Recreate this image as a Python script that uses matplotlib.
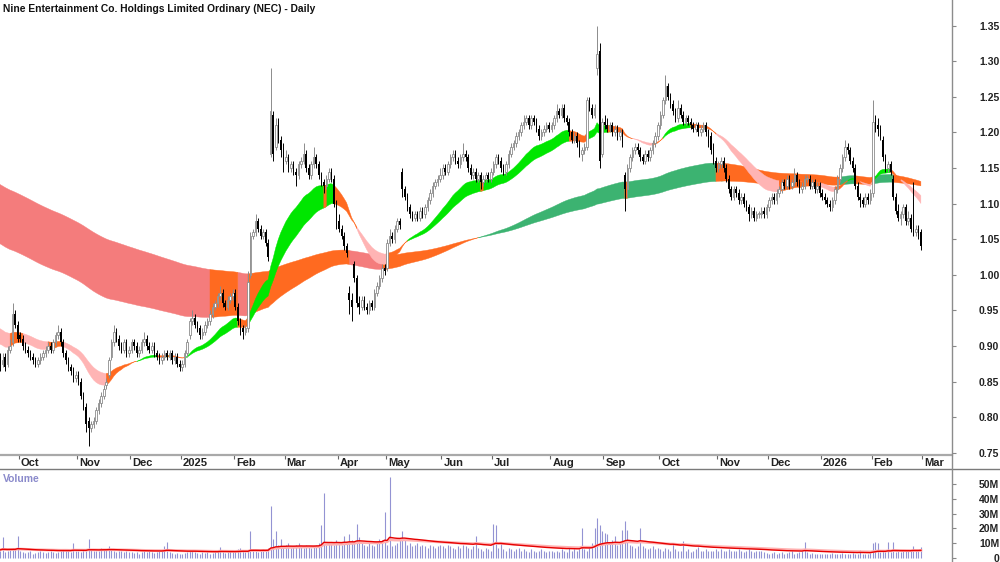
import numpy as np
import pandas as pd
import matplotlib
matplotlib.use("Agg")
import matplotlib.pyplot as plt
from matplotlib.lines import Line2D

plt.rcParams['font.family'] = ['Liberation Sans', 'DejaVu Sans']

title = "Nine Entertainment Co. Holdings Limited Ordinary (NEC) - Daily"

# trading calendar (ASX)
start_date = "2024-09-19"
end_date = "2026-02-27"
holidays = ["2024-12-25", "2024-12-26", "2025-01-01", "2025-01-27", "2025-04-18",
            "2025-04-21", "2025-04-25", "2025-06-09", "2025-12-25", "2025-12-26",
            "2026-01-01", "2026-01-26"]
month_labels = ["Oct", "Nov", "Dec", "2025", "Feb", "Mar", "Apr", "May", "Jun", "Jul",
                "Aug", "Sep", "Oct", "Nov", "Dec", "2026", "Feb", "Mar"]

# prices in cents, one line per month
closes = [
    87.5, 88.0, 87.0, 89.5, 90.0, 94.5, 93.0, 91.0,
    91.0, 90.0, 89.5, 89.0, 88.5, 88.0, 87.5, 88.0, 88.5, 89.0, 89.5, 90.0, 89.5, 90.5, 91.5, 92.0, 90.5, 89.0, 88.0, 87.0, 86.5, 85.5, 86.0,
    85.0, 83.0, 81.5, 79.0, 78.5, 79.0, 79.5, 81.0, 82.0, 83.0, 84.0, 85.0, 88.0, 90.5, 92.0, 91.0, 90.0, 89.5, 90.5, 89.0, 89.5,
    90.5, 90.0, 89.0, 89.5, 90.5, 91.0, 90.0, 89.5, 90.0, 89.0, 88.5, 88.0, 88.5, 89.0, 88.5, 89.0, 88.0, 88.5, 87.5, 87.0,
    87.5, 89.0, 90.5, 93.5, 94.0, 93.0, 92.5, 91.5, 92.0, 93.0, 93.5, 94.5, 95.5, 96.0, 97.0, 97.5, 96.0, 95.5, 96.5, 97.0, 97.5,
    95.5, 93.5, 92.5, 92.0, 92.5, 99.0, 105.5, 106.0, 107.5, 106.5, 105.5, 106.0, 104.5, 102.5, 123.0, 117.0, 121.0, 119.0, 117.5, 116.0,
    116.5, 115.0, 115.5, 114.5, 114.0, 115.5, 116.0, 117.0, 115.0, 114.0, 115.5, 116.5, 115.5, 114.0, 113.0, 112.5, 113.5, 114.5, 113.5, 110.0, 107.5,
    106.5, 105.5, 104.0, 103.0, 96.5, 95.5, 99.5, 96.0, 95.5, 96.5, 95.5, 95.0, 96.0, 95.5, 97.5, 98.5, 99.5, 101.0, 100.5,
    104.5, 105.5, 105.0, 106.5, 107.5, 107.0, 112.0, 111.0, 109.5, 108.5, 108.0, 108.5, 108.0, 109.0, 108.5, 109.5, 110.5, 111.5, 112.5, 113.0, 113.5, 114.0,
    115.0, 114.5, 115.5, 116.5, 117.0, 116.0, 115.5, 116.5, 117.0, 116.5, 115.0, 114.0, 114.5, 113.5, 114.0, 113.0, 113.5, 114.0, 113.5, 114.5,
    115.5, 116.5, 116.0, 115.0, 114.5, 115.5, 117.0, 118.0, 118.5, 119.5, 120.0, 121.0, 121.5, 122.0, 121.0, 122.0, 121.5, 120.5, 119.5, 120.0, 120.5, 121.0, 120.5,
    121.0, 122.0, 123.0, 122.5, 123.5, 122.0, 121.5, 120.0, 119.0, 119.5, 118.5, 117.0, 117.5, 118.0, 124.5, 123.5, 122.5, 123.5, 131.0, 116.0, 121.5,
    121.0, 120.5, 121.0, 120.0, 120.5, 119.5, 120.0, 118.5, 112.0, 115.0, 116.5, 117.5, 118.0, 117.5, 116.5, 116.0, 117.0, 116.5, 117.5, 118.5, 119.5, 121.0,
    122.5, 124.5, 126.5, 125.0, 124.0, 123.0, 122.0, 123.5, 122.5, 121.5, 122.0, 121.5, 121.0, 120.5, 121.0, 120.0, 120.5, 121.0, 120.0, 118.5, 117.5, 116.0, 115.0,
    115.5, 116.0, 115.0, 113.5, 112.0, 111.0, 112.0, 111.5, 110.5, 111.0, 110.0, 109.5, 108.5, 109.0, 108.0, 108.5, 108.5, 109.0, 108.5, 109.5,
    110.5, 111.0, 110.5, 111.5, 112.0, 113.0, 112.5, 113.5, 112.5, 113.0, 114.0, 113.0, 112.0, 112.5, 113.5, 113.5, 112.5, 113.0, 112.0, 112.5, 111.5,
    111.0, 110.5, 110.0, 109.5, 110.5, 112.0, 113.5, 115.0, 116.5, 118.0, 117.5, 116.0, 115.0, 112.5, 111.0, 110.5, 110.0, 111.0, 110.5, 111.5,
    121.5, 121.0, 120.5, 119.5, 116.5, 115.0, 115.5, 114.5, 111.0, 109.0, 108.0, 108.5, 109.5, 107.5, 108.0, 106.5, 106.0, 106.5, 105.5, 104.0,
]
opens = [
    88.5, 87.5, 88.5, 87.5, 89.5, 90.5, 94.5, 93.0,
    91.5, 91.0, 90.0, 89.5, 89.0, 88.5, 88.0, 87.5, 88.0, 88.5, 89.0, 89.5, 90.0, 89.5, 90.5, 91.5, 92.0, 90.5, 89.0, 88.0, 87.0, 86.5, 85.5,
    86.0, 85.0, 83.0, 81.5, 79.5, 78.5, 79.0, 79.5, 81.0, 82.0, 83.0, 84.5, 86.0, 88.5, 90.5, 92.0, 91.0, 90.0, 89.5, 90.5, 89.0,
    89.5, 90.5, 90.0, 89.0, 89.5, 90.5, 91.0, 90.0, 89.5, 90.0, 89.0, 88.5, 88.0, 88.5, 89.0, 88.5, 89.0, 88.0, 88.5, 87.5,
    87.0, 87.5, 89.0, 91.5, 93.5, 94.0, 93.0, 92.5, 91.5, 92.0, 93.0, 93.5, 94.5, 95.5, 96.0, 97.0, 97.5, 96.0, 95.5, 96.5, 97.0,
    97.5, 95.5, 93.5, 92.5, 92.0, 92.5, 100.0, 105.5, 106.0, 107.5, 106.5, 105.5, 106.0, 104.5, 117.0, 122.5, 118.0, 121.5, 119.0, 117.5,
    116.0, 116.5, 115.0, 115.5, 114.5, 114.0, 115.5, 116.0, 117.0, 115.0, 114.0, 115.5, 116.5, 115.5, 114.0, 113.0, 112.5, 113.5, 114.5, 113.5, 110.0,
    107.5, 106.5, 105.5, 104.0, 97.5, 96.5, 101.5, 99.5, 96.0, 95.5, 96.5, 95.5, 95.0, 96.0, 95.5, 97.5, 98.5, 99.5, 101.0,
    101.0, 104.5, 105.5, 105.0, 106.5, 107.5, 114.5, 112.0, 111.0, 109.5, 108.5, 108.0, 108.5, 108.0, 109.0, 108.5, 109.5, 110.5, 111.5, 112.5, 113.0, 113.5,
    114.0, 115.0, 114.5, 115.5, 116.5, 117.0, 116.0, 115.5, 116.5, 117.0, 116.5, 115.0, 114.0, 114.5, 113.5, 114.0, 113.0, 113.5, 114.0, 113.5,
    114.5, 115.5, 116.5, 116.0, 115.0, 114.5, 115.5, 117.0, 118.0, 118.5, 119.5, 120.0, 121.0, 121.5, 122.0, 121.0, 122.0, 121.5, 120.5, 119.5, 120.0, 120.5, 121.0,
    120.5, 121.0, 122.0, 123.0, 122.5, 123.5, 122.0, 121.5, 120.0, 119.0, 119.5, 118.5, 117.0, 117.5, 118.0, 124.5, 123.5, 122.5, 129.0, 131.5, 117.0,
    121.5, 121.0, 120.5, 121.0, 120.0, 120.5, 119.5, 120.0, 114.0, 112.0, 115.0, 116.5, 117.5, 118.0, 117.5, 116.5, 116.0, 117.0, 116.5, 117.5, 118.5, 119.5,
    121.0, 122.5, 124.5, 126.5, 125.0, 124.0, 123.0, 122.0, 123.5, 122.5, 121.5, 122.0, 121.5, 121.0, 120.5, 121.0, 120.0, 120.5, 121.0, 120.0, 119.5, 118.0, 116.0,
    115.0, 115.5, 116.0, 115.0, 113.5, 112.0, 111.0, 112.0, 111.5, 110.5, 111.0, 110.0, 109.5, 108.5, 109.0, 108.0, 108.5, 108.5, 109.0, 108.5,
    109.5, 110.5, 111.0, 110.5, 111.5, 112.0, 113.0, 112.5, 113.5, 112.5, 113.0, 114.0, 113.0, 112.0, 112.5, 113.5, 113.5, 112.5, 113.0, 112.0, 112.5,
    111.5, 111.0, 110.5, 110.0, 109.5, 110.5, 112.0, 113.5, 115.0, 116.5, 118.0, 117.5, 116.0, 115.0, 112.5, 111.0, 110.5, 110.0, 111.0, 110.5,
    111.5, 121.5, 121.0, 120.5, 119.0, 116.5, 115.0, 115.5, 113.5, 111.0, 109.0, 108.0, 108.5, 109.5, 107.5, 108.0, 106.5, 106.0, 106.5, 106.0,
]
highs = [
    89.0, 89.0, 89.0, 90.0, 91.0, 96.0, 95.0, 93.5,
    92.0, 91.5, 90.5, 90.0, 89.5, 89.0, 88.5, 88.5, 89.0, 89.5, 90.0, 90.5, 90.5, 91.0, 92.0, 93.0, 92.5, 91.0, 89.5, 88.5, 87.5, 87.0, 86.5,
    86.5, 85.5, 83.5, 82.0, 80.0, 79.5, 80.0, 81.5, 82.5, 83.5, 84.5, 85.5, 88.5, 91.0, 93.0, 92.5, 91.5, 90.5, 91.0, 91.0, 90.0,
    91.0, 91.0, 90.5, 90.0, 91.0, 92.0, 91.5, 90.5, 90.5, 90.5, 89.5, 89.0, 89.0, 89.5, 89.5, 89.5, 89.5, 89.0, 89.0, 88.0,
    88.0, 89.5, 91.0, 94.0, 95.0, 94.5, 93.5, 93.0, 92.5, 93.5, 94.0, 95.0, 96.0, 96.5, 97.5, 98.5, 98.0, 96.5, 97.0, 97.5, 98.0,
    98.0, 96.0, 94.0, 93.0, 93.0, 100.5, 106.0, 106.5, 108.5, 108.0, 107.0, 106.5, 106.5, 105.0, 129.0, 123.0, 122.0, 122.0, 119.5, 118.5,
    117.5, 117.0, 116.0, 116.0, 115.0, 116.0, 116.5, 118.5, 117.5, 115.5, 116.0, 118.0, 117.0, 116.0, 114.5, 113.5, 114.0, 115.0, 115.0, 114.0, 110.5,
    108.5, 107.0, 106.0, 104.5, 98.5, 97.5, 102.0, 100.0, 97.0, 97.0, 97.0, 96.0, 96.5, 96.5, 98.0, 99.0, 100.0, 101.5, 101.5,
    105.0, 106.5, 106.0, 107.0, 108.0, 108.0, 115.0, 112.5, 111.5, 110.0, 109.0, 109.0, 109.0, 109.5, 109.5, 110.0, 111.0, 112.0, 113.0, 113.5, 114.0, 115.0,
    115.5, 115.5, 116.0, 117.0, 117.5, 117.5, 116.5, 117.0, 118.5, 117.5, 117.0, 115.5, 115.0, 115.0, 114.5, 114.5, 114.0, 114.5, 114.5, 115.0,
    116.0, 117.0, 117.0, 116.5, 115.5, 116.0, 117.5, 118.5, 119.0, 120.0, 120.5, 121.5, 122.5, 122.5, 122.5, 122.5, 122.5, 122.0, 121.0, 120.5, 121.0, 121.5, 121.5,
    121.5, 122.5, 124.0, 123.5, 124.0, 124.0, 122.5, 122.0, 120.5, 120.0, 120.0, 119.0, 118.0, 118.5, 125.0, 125.0, 124.0, 124.0, 135.0, 132.5, 122.0,
    122.5, 122.0, 121.5, 121.5, 121.0, 121.0, 120.5, 120.5, 114.5, 115.5, 117.0, 118.0, 118.5, 118.5, 118.0, 117.0, 117.5, 117.5, 118.0, 119.0, 120.0, 121.5,
    123.0, 125.0, 128.0, 127.0, 125.5, 124.5, 123.5, 124.5, 124.0, 123.0, 122.5, 122.5, 122.0, 121.5, 121.5, 121.5, 121.0, 121.5, 121.5, 120.5, 120.0, 118.5, 116.5,
    116.0, 116.5, 116.5, 115.5, 114.0, 112.5, 112.5, 112.5, 112.0, 111.5, 111.5, 110.5, 110.0, 109.5, 109.5, 109.0, 109.0, 109.5, 109.5, 110.0,
    111.0, 111.5, 111.5, 112.0, 112.5, 113.5, 113.5, 114.0, 114.0, 113.5, 115.0, 114.5, 113.5, 113.0, 114.0, 114.0, 114.0, 113.5, 113.5, 113.0, 113.0,
    112.0, 111.5, 111.0, 110.5, 111.0, 112.5, 114.0, 115.5, 117.0, 119.0, 118.5, 118.0, 116.5, 115.5, 113.0, 111.5, 111.0, 111.5, 111.5, 112.0,
    124.5, 122.5, 122.0, 121.0, 119.5, 117.0, 116.0, 116.0, 114.0, 111.5, 110.0, 109.0, 110.0, 110.0, 109.0, 108.5, 113.0, 107.0, 107.0, 106.5,
]
lows = [
    86.5, 87.0, 86.5, 87.0, 89.0, 90.0, 92.5, 90.5,
    90.5, 89.5, 89.0, 88.5, 88.0, 87.5, 87.0, 87.0, 87.5, 88.0, 88.5, 89.0, 89.0, 89.0, 90.0, 91.0, 90.0, 88.5, 87.5, 86.5, 86.0, 85.0, 85.0,
    84.5, 82.5, 81.0, 78.0, 76.0, 78.0, 78.5, 79.0, 80.5, 81.5, 82.5, 84.0, 85.5, 88.0, 90.0, 90.5, 89.5, 89.0, 89.0, 88.5, 88.5,
    89.0, 89.5, 88.5, 88.5, 89.0, 90.0, 89.5, 89.0, 89.0, 88.5, 88.0, 87.5, 87.5, 88.0, 88.0, 88.0, 87.5, 87.5, 87.0, 86.5,
    86.5, 87.0, 88.5, 91.0, 93.0, 92.5, 92.0, 91.0, 91.0, 91.5, 92.5, 93.0, 94.0, 95.0, 95.5, 96.5, 95.5, 95.0, 95.0, 96.0, 96.5,
    95.0, 93.0, 91.5, 91.0, 91.5, 92.0, 99.5, 105.0, 105.5, 106.0, 105.0, 105.0, 104.0, 102.0, 116.5, 116.0, 117.5, 118.5, 116.5, 114.5,
    115.5, 114.5, 114.5, 114.0, 112.5, 113.5, 115.0, 115.5, 114.5, 113.5, 113.5, 115.0, 115.0, 113.5, 112.5, 111.5, 112.0, 113.0, 113.0, 109.5, 106.5,
    106.0, 105.0, 103.5, 102.5, 94.5, 93.5, 99.0, 95.5, 94.5, 95.0, 95.0, 94.5, 94.5, 95.0, 95.0, 97.0, 98.0, 99.0, 100.0,
    100.5, 104.0, 104.5, 104.5, 106.0, 106.5, 111.0, 110.5, 109.0, 108.0, 107.5, 107.5, 107.5, 107.5, 108.0, 108.0, 109.0, 110.0, 111.0, 112.0, 112.5, 113.0,
    113.5, 114.0, 114.0, 115.0, 116.0, 115.5, 115.0, 115.0, 116.0, 116.0, 114.5, 113.5, 113.5, 113.0, 113.0, 112.0, 112.5, 113.0, 113.0, 113.0,
    114.0, 115.0, 115.5, 114.5, 114.0, 114.0, 115.0, 116.5, 117.5, 118.0, 119.0, 119.5, 120.5, 121.0, 120.5, 120.5, 121.0, 120.0, 119.0, 119.0, 119.5, 120.0, 120.0,
    120.0, 120.5, 121.5, 122.0, 122.0, 121.5, 121.0, 119.5, 118.5, 118.5, 118.0, 116.5, 116.0, 117.0, 117.5, 123.0, 122.0, 122.0, 128.0, 115.0, 116.5,
    120.5, 120.0, 120.0, 119.5, 119.5, 119.0, 119.0, 118.0, 109.0, 111.0, 114.5, 116.0, 117.0, 117.0, 116.0, 115.5, 115.5, 116.0, 116.0, 117.0, 118.0, 119.0,
    120.5, 122.0, 124.0, 124.5, 123.5, 122.5, 121.5, 121.5, 122.0, 121.0, 121.0, 121.0, 120.5, 120.0, 120.0, 119.5, 119.5, 120.0, 119.5, 118.0, 117.0, 115.5, 114.5,
    114.5, 115.0, 114.5, 113.0, 111.5, 110.5, 110.5, 111.0, 110.0, 110.0, 109.5, 109.0, 107.5, 108.0, 107.5, 107.5, 108.0, 108.0, 108.0, 108.0,
    109.0, 110.0, 110.0, 110.0, 111.0, 111.5, 112.0, 112.0, 112.0, 112.0, 112.5, 112.5, 111.5, 111.5, 112.0, 113.0, 112.0, 112.0, 111.5, 111.5, 111.0,
    110.5, 110.0, 109.5, 109.0, 109.0, 110.0, 111.5, 113.0, 114.5, 116.0, 117.0, 115.5, 114.5, 112.0, 110.5, 109.5, 109.5, 109.5, 110.0, 110.0,
    111.0, 120.0, 119.5, 119.0, 116.0, 114.5, 114.5, 114.0, 110.5, 108.5, 107.5, 107.0, 108.0, 107.0, 107.0, 106.0, 105.5, 105.5, 105.0, 103.5,
]
# volume in millions of shares
volumes = [
    5, 14.5, 4, 5, 6, 7, 6, 15,
    5, 4, 3.5, 4, 4.5, 3, 3.5, 4, 5, 4, 3.5, 4, 5, 4, 3.5, 4, 5, 6, 5, 4.5, 4, 10, 5,
    4.5, 4, 6, 5, 13, 6, 5, 4.5, 5, 7, 6, 5.5, 8, 6, 5, 4, 5, 4.5, 4, 5, 4,
    4, 3.5, 4, 3, 4, 4.5, 4, 5, 4, 3.5, 4, 5, 4.5, 8, 11, 4, 3.5, 3, 3.5, 3,
    3, 3.5, 4, 5, 4.5, 4, 3.5, 3, 4, 3.5, 4, 3, 3.5, 4, 4.5, 7.5, 4, 3.5, 4, 4.5, 4,
    4, 6, 7, 5, 4, 4.5, 18, 6, 5, 4, 5, 6, 4.5, 7, 35, 13, 18, 9, 13, 8,
    9, 10, 7, 8, 9, 10, 8, 7, 9, 8, 7, 8, 9, 10, 22, 44, 9, 10, 11, 9, 12,
    10, 9, 15, 11, 16, 12, 10, 23, 14, 10, 9, 8, 10, 9, 8, 10, 13, 12, 31,
    9, 55, 8, 9, 10, 12, 18, 13, 9, 10, 8, 9, 10, 8, 9, 8, 7, 9, 8, 7, 8, 9,
    8, 7, 9, 8, 7, 6, 8, 7, 9, 8, 7, 6, 8, 15, 7, 6, 5, 7, 6, 5,
    23, 22, 7, 11, 6, 5, 7, 6, 5, 6, 7, 5, 6, 5, 4, 6, 5, 4, 5, 6, 5, 4, 5,
    5, 4, 5, 4, 6, 5, 4, 7, 5, 6, 5, 6, 20, 6, 5, 8, 10, 20, 27, 22, 18,
    17, 16, 11, 12, 15, 9, 10, 19, 25, 19, 9, 8, 7, 8, 20, 8, 7, 6, 7, 8, 6, 7,
    6, 5, 7, 6, 5, 9.5, 6, 5, 4.5, 11.5, 5, 6, 4, 5, 6, 7.5, 4.5, 5, 6, 5, 4.5, 5, 6,
    5, 6, 5, 4.5, 6, 5, 4.5, 5, 6, 5, 4, 5, 6, 5, 4, 5, 4.5, 5, 4, 3.5,
    3, 3.5, 4, 3, 3.5, 4, 3, 3.5, 4, 4.5, 3, 3.5, 4, 5, 11, 4, 3, 3.5, 2.5, 3, 2.5,
    2.5, 3, 2.5, 3, 3.5, 3, 2.5, 3, 3.5, 3, 2.5, 3, 3.5, 3, 2.5, 5.5, 3, 2.5, 3, 3.5,
    10, 10.5, 10, 4, 5, 4, 11, 4, 11, 4, 5, 4, 5, 4.5, 5, 4.5, 8, 5, 4.5, 7.5,
]

short_spans = (25, 40)
short_seed = (0.905, 0.927)
long_spans = (150, 240)
long_seed = (1.046, 1.129)
vol_ma_span = 40
vol_ma_seed = 5.5

dates = pd.bdate_range(start_date, end_date)
dates = dates[~dates.isin(pd.to_datetime(holidays))]
n = len(closes)
assert len(opens) == n and len(highs) == n and len(lows) == n and len(volumes) == n, \
    (len(opens), len(highs), len(lows), len(closes), len(volumes))
assert len(dates) == n, len(dates)

o = np.array(opens) / 100
c = np.array(closes) / 100
h = np.maximum(np.array(highs) / 100, np.maximum(o, c))
l = np.minimum(np.array(lows) / 100, np.minimum(o, c))
v = np.array(volumes, dtype=float)
x = np.arange(n)


def ema(values, span, seed):
    a = 2.0 / (span + 1)
    out = np.empty(len(values))
    prev = seed
    for k, val in enumerate(values):
        prev = prev + a * (val - prev)
        out[k] = prev
    return out


def draw_ribbon(ax, fast, slow, seed, cols, z):
    rising = np.diff(np.r_[seed, fast]) > 0
    state = np.where((fast > slow) & rising, 0,
                     np.where((fast < slow) & ~rising, 1, 2))
    lo = np.minimum(fast, slow)
    hi = np.maximum(fast, slow)
    for s, col in enumerate(cols):
        m = state == s
        m2 = m | np.r_[False, m[:-1]]
        ax.fill_between(x, lo, hi, where=m2, color=col, lw=0.3, ec=col, zorder=z)


fig = plt.figure(figsize=(10, 5.62), dpi=100)
W, H = 1000.0, 562.0
axr = 952 / W
ax = fig.add_axes([0, 1 - 455 / H, axr, 455 / H])
axd = fig.add_axes([0, 1 - 469 / H, axr, 14 / H], sharex=ax)
axv = fig.add_axes([0, 0, axr, 93 / H], sharex=ax)

# ribbons
lf = ema(c, long_spans[0], long_seed[0])
ls = ema(c, long_spans[1], long_seed[1])
draw_ribbon(ax, lf, ls, long_seed[0], ['#3cb371', '#f47c7c', '#ff6a20'], 1)
sf = ema(c, short_spans[0], short_seed[0])
ss = ema(c, short_spans[1], short_seed[1])
draw_ribbon(ax, sf, ss, short_seed[0], ['#00e600', '#ffb4b4', '#ff6a20'], 2)

# candles
up = c >= o
body_lo = np.minimum(o, c)
body_h = np.maximum(np.abs(c - o), 0.0015)
ax.vlines(x[up], l[up], h[up], color='#8c8c8c', lw=0.7, zorder=3)
ax.vlines(x[~up], l[~up], h[~up], color='black', lw=0.7, zorder=3)
ax.bar(x[up], body_h[up], bottom=body_lo[up], width=0.62, facecolor='white',
       edgecolor='#8c8c8c', lw=0.6, zorder=4)
ax.bar(x[~up], body_h[~up], bottom=body_lo[~up], width=0.62, color='black', lw=0, zorder=4)

ax.set_xlim(0, 376.3)
ax.set_ylim(0.747, 1.386)

# volume
axv.vlines(x, 0, v, color='#9393d3', lw=0.8)
axv.plot(x, ema(v, 60, vol_ma_seed), color='#ffb0b0', lw=2.0, zorder=2)
axv.plot(x, ema(v, vol_ma_span, vol_ma_seed), color='#e60000', lw=1.0, zorder=3)
axv.set_ylim(-2.7, 60.1)

for a in (ax, axd, axv):
    for s in a.spines.values():
        s.set_visible(False)
    a.tick_params(axis='x', bottom=False, labelbottom=False)

price_ticks = np.arange(0.75, 1.351, 0.05)
ax.set_yticks(price_ticks)
ax.set_yticklabels([f"{t:.2f}" for t in price_ticks])
axv.set_yticks([0, 10, 20, 30, 40, 50])
axv.set_yticklabels(["0", "10M", "20M", "30M", "40M", "50M"])
for a in (ax, axv):
    a.tick_params(axis='y', left=False, labelleft=False, right=True, labelright=True,
                  direction='out', length=3, color='#888888', labelsize=7.5,
                  pad=31, labelcolor='#222222')
    for lbl in a.get_yticklabels():
        lbl.set_horizontalalignment('right')
        lbl.set_fontweight('bold')
axd.set_yticks([])
axd.set_ylim(0, 1)

# month strip
month_pos = [k for k in range(1, n) if dates[k].month != dates[k - 1].month] + [n]
for pos, lab in zip(month_pos, month_labels):
    axd.vlines(pos - 0.5, 0.72, 1.0, color='#666666', lw=0.8)
    axd.text(pos + 0.3, 0.42, lab, ha='left', va='center', fontsize=8,
             fontweight='bold', color='#222222')

fig.add_artist(Line2D([0, axr], [1 - 455 / H] * 2, color='#a9a9a9', lw=1.6))
fig.add_artist(Line2D([0, 1], [1 - 469 / H] * 2, color='#7a7a7a', lw=1.0))
fig.add_artist(Line2D([axr, axr], [0, 1], color='#8c8c8c', lw=1.0))

fig.text(3 / W, 1 - 9 / H, title, fontsize=7.4, fontweight='bold', va='center',
         color='#111111')
fig.text(3 / W, 1 - 479 / H, "Volume", fontsize=7.5, fontweight='bold', va='center',
         color='#8a8acb')

fig.savefig("out.png", dpi=100, facecolor='white')
